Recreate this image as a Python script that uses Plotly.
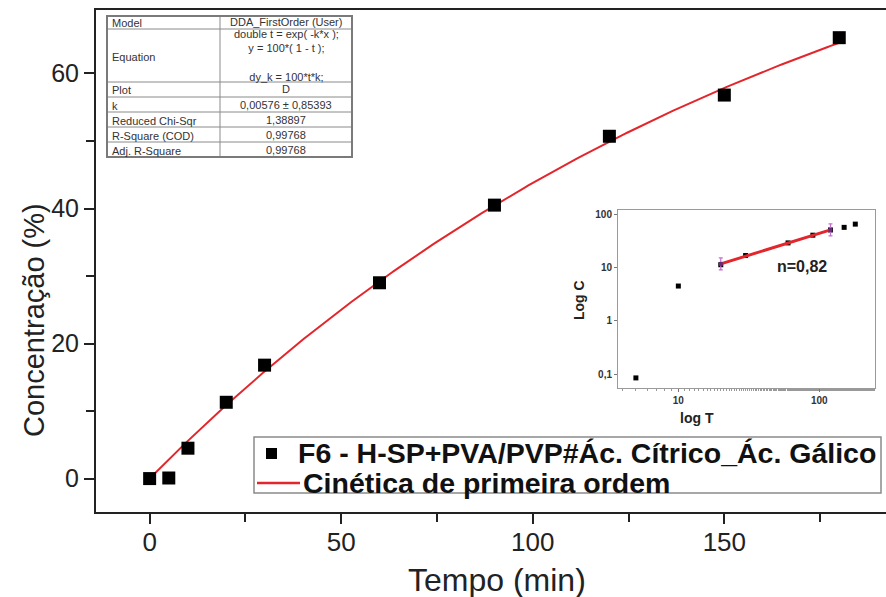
import numpy as np
import plotly.graph_objects as go

# Release data (time in minutes, cumulative concentration in %)
time_min = [0, 5, 10, 20, 30, 60, 90, 120, 150, 180]
conc_pct = [0, 0.085, 4.5, 11.3, 16.8, 29.0, 40.5, 50.7, 56.8, 65.3]

# First-order fit parameter (from the fit report)
k_fit = 0.00576
fit_rows = [
    ("Model", "DDA_FirstOrder (User)"),
    ("Equation", "double t = exp( -k*x );<br>y = 100*( 1 - t );<br> <br>dy_k = 100*t*k;"),
    ("Plot", "D"),
    ("k", "0,00576 ± 0,85393"),
    ("Reduced Chi-Sqr", "1,38897"),
    ("R-Square (COD)", "0,99768"),
    ("Adj. R-Square", "0,99768"),
]

# Power-law (Korsmeyer-Peppas) exponent for the inset
n_exp = 0.82
pl_range = (20, 120)

series_name = "F6 - H-SP+PVA/PVP#Ác. Cítrico_Ác. Gálico"
fit_name = "Cinética de primeira ordem"

main_xticks = [0, 50, 100, 150]
main_yticks = [0, 20, 40, 60]
inset_xticks = [10, 100]
inset_xtext = ["10", "100"]
inset_yticks = [0.1, 1, 10, 100]
inset_ytext = ["0,1", "1", "10", "100"]

FONT = "Liberation Sans"
RED = "#e3262c"

# plot-area geometry in pixels
W, H = 886, 597
PL, PR, PT, PB = 96, 886, 10, 512


def px(x):
    return (x - PL) / (PR - PL)


def py(y):
    return (PB - y) / (PB - PT)


fig = go.Figure()

# first-order model curve
t_curve = np.linspace(0, max(time_min), 300)
c_curve = 100 * (1 - np.exp(-k_fit * t_curve))
fig.add_trace(go.Scatter(x=t_curve, y=c_curve, mode="lines",
                         line=dict(color=RED, width=2), showlegend=False,
                         xaxis="x", yaxis="y"))
# measured points
fig.add_trace(go.Scatter(x=time_min, y=conc_pct, mode="markers",
                         marker=dict(symbol="square", size=13, color="black"),
                         showlegend=False, xaxis="x", yaxis="y"))

# inset: log-log plot
t_arr = np.array(time_min, dtype=float)
c_arr = np.array(conc_pct, dtype=float)
pos = c_arr > 0
fig.add_trace(go.Scatter(x=t_arr[pos], y=c_arr[pos], mode="markers",
                         marker=dict(symbol="square", size=5, color="black"),
                         showlegend=False, xaxis="x2", yaxis="y2"))
sel = (t_arr >= pl_range[0]) & (t_arr <= pl_range[1])
logA = np.mean(np.log10(c_arr[sel]) - n_exp * np.log10(t_arr[sel]))
t_pl = np.array(pl_range, dtype=float)
c_pl = 10 ** logA * t_pl ** n_exp
fig.add_trace(go.Scatter(x=t_pl, y=c_pl, mode="lines",
                         line=dict(color=RED, width=3), showlegend=False,
                         xaxis="x2", yaxis="y2"))
fig.add_trace(go.Scatter(x=t_pl, y=c_pl, mode="markers",
                         marker=dict(symbol="square", size=4, color="#6a2a7a"),
                         error_y=dict(type="data", array=c_pl * 0.3,
                                      arrayminus=c_pl * 0.23, color="#c070d0",
                                      thickness=1.2, width=2),
                         showlegend=False, xaxis="x2", yaxis="y2"))

shapes = []
annotations = []

# fit report table
tx0, tx1, tcol = 107, 352, 220
row_edges = [16, 29, 82, 97, 112, 127, 142, 157]
for yb in row_edges[1:-1]:
    shapes.append(dict(type="line", xref="paper", yref="paper",
                       x0=px(tx0), x1=px(tx1), y0=py(yb), y1=py(yb),
                       line=dict(color="#8a8a8a", width=1)))
shapes.append(dict(type="line", xref="paper", yref="paper",
                   x0=px(tcol), x1=px(tcol), y0=py(row_edges[0]), y1=py(row_edges[-1]),
                   line=dict(color="#8a8a8a", width=1)))
shapes.append(dict(type="rect", xref="paper", yref="paper",
                   x0=px(tx0), x1=px(tx1), y0=py(row_edges[-1]), y1=py(row_edges[0]),
                   line=dict(color="#7a7a7a", width=2)))
for i, (lab, val) in enumerate(fit_rows):
    yc = (row_edges[i] + row_edges[i + 1]) / 2
    annotations.append(dict(xref="paper", yref="paper", x=px(tx0 + 3), y=py(yc + 1),
                            text=lab, showarrow=False, xanchor="left", yanchor="middle",
                            font=dict(family=FONT, size=11, color="#333")))
    annotations.append(dict(xref="paper", yref="paper", x=px((tcol + tx1) / 2), y=py(yc),
                            text=val, showarrow=False, xanchor="center", yanchor="middle",
                            align="center",
                            font=dict(family=FONT, size=11, color="#333")))

# legend box
shapes.append(dict(type="rect", xref="paper", yref="paper",
                   x0=px(254), x1=px(881), y0=py(493), y1=py(437),
                   line=dict(color="#8a8a8a", width=1.5), fillcolor="white", layer="above"))
shapes.append(dict(type="rect", xref="paper", yref="paper",
                   x0=px(266), x1=px(277), y0=py(459), y1=py(448),
                   line=dict(width=0), fillcolor="black", layer="above"))
shapes.append(dict(type="line", xref="paper", yref="paper",
                   x0=px(257), x1=px(300), y0=py(483), y1=py(483),
                   line=dict(color=RED, width=2.5), layer="above"))
annotations.append(dict(xref="paper", yref="paper", x=px(296), y=py(453),
                        text=series_name, showarrow=False, xanchor="left", yanchor="middle",
                        font=dict(family=FONT, size=28.5, color="#111", weight="bold")))
annotations.append(dict(xref="paper", yref="paper", x=px(301), y=py(483),
                        text=fit_name, showarrow=False, xanchor="left", yanchor="middle",
                        font=dict(family=FONT, size=28.5, color="#111", weight="bold")))

# axis titles
annotations.append(dict(xref="paper", yref="paper", x=px(497), y=py(580),
                        text="Tempo (min)", showarrow=False, xanchor="center", yanchor="middle",
                        font=dict(family=FONT, size=32, color="#222")))
annotations.append(dict(xref="paper", yref="paper", x=px(34), y=py(320),
                        text="Concentração (%)", showarrow=False, textangle=-90,
                        xanchor="center", yanchor="middle",
                        font=dict(family=FONT, size=29, color="#222")))

# inset labels
annotations.append(dict(xref="paper", yref="paper", x=px(697), y=py(418),
                        text="log T", showarrow=False, xanchor="center", yanchor="middle",
                        font=dict(family=FONT, size=14, color="#222", weight="bold")))
annotations.append(dict(xref="paper", yref="paper", x=px(579), y=py(300),
                        text="Log C", showarrow=False, textangle=-90,
                        xanchor="center", yanchor="middle",
                        font=dict(family=FONT, size=14, color="#222", weight="bold")))
annotations.append(dict(xref="paper", yref="paper", x=px(802), y=py(266),
                        text="n=0,82", showarrow=False, xanchor="center", yanchor="middle",
                        font=dict(family=FONT, size=16, color="#222", weight="bold")))

inset_l, inset_r, inset_t, inset_b = 618, 875, 210, 388

fig.update_layout(
    width=W, height=H,
    margin=dict(l=PL, r=W - PR, t=PT, b=H - PB),
    paper_bgcolor="white", plot_bgcolor="white",
    showlegend=False,
    shapes=shapes, annotations=annotations,
    xaxis=dict(domain=[0, 1], range=[-14, 192.2], tickvals=main_xticks,
               ticks="outside", ticklen=10, tickwidth=1.5, tickcolor="#222",
               ticklabelstandoff=-4,
               showline=True, linecolor="#222", linewidth=2, mirror=True,
               showgrid=False, zeroline=False,
               minor=dict(dtick=25, tick0=0, ticks="outside", ticklen=8,
                          tickwidth=1.5, tickcolor="#222", showgrid=False),
               tickfont=dict(family=FONT, size=26, color="#222")),
    yaxis=dict(domain=[0, 1], range=[-4.95, 69.4], tickvals=main_yticks,
               ticks="outside", ticklen=10, tickwidth=1.5, tickcolor="#222",
               showline=True, linecolor="#222", linewidth=2, mirror=False,
               showgrid=False, zeroline=False,
               minor=dict(dtick=10, tick0=0, ticks="outside", ticklen=8,
                          tickwidth=1.5, tickcolor="#222", showgrid=False),
               tickfont=dict(family=FONT, size=25, color="#222")),
    xaxis2=dict(domain=[px(inset_l), px(inset_r)], anchor="y2", type="log",
                range=[0.572, 2.395], tickvals=inset_xticks, ticktext=inset_xtext,
                ticks="outside", ticklen=3, tickcolor="#777",
                showline=True, linecolor="#9a9a9a", linewidth=1, mirror=True,
                showgrid=False, zeroline=False,
                minor=dict(ticks="outside", ticklen=2, tickcolor="#999", showgrid=False),
                tickfont=dict(family=FONT, size=10, color="#333", weight="bold")),
    yaxis2=dict(domain=[py(inset_b), py(inset_t)], anchor="x2", type="log",
                range=[-1.26, 2.08], tickvals=inset_yticks, ticktext=inset_ytext,
                ticks="outside", ticklen=3, tickcolor="#777",
                showline=True, linecolor="#9a9a9a", linewidth=1, mirror=True,
                showgrid=False, zeroline=False,
                tickfont=dict(family=FONT, size=10, color="#333", weight="bold")),
)

fig.write_html("out.html")
